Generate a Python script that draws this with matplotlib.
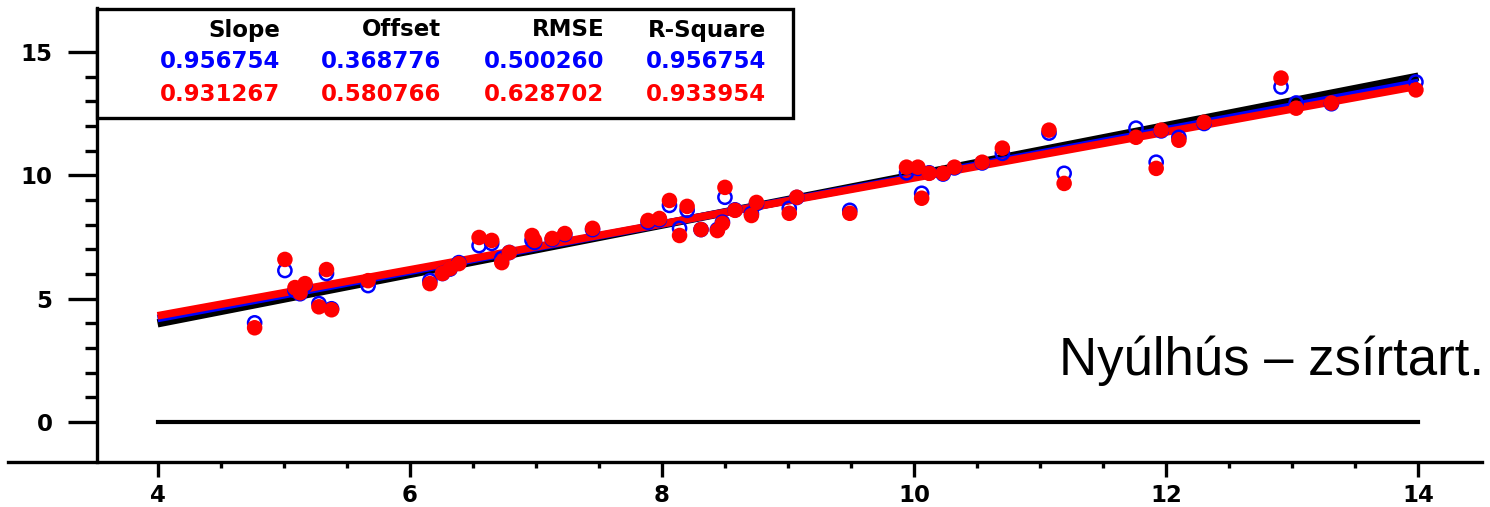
import matplotlib
matplotlib.use("Agg")
import matplotlib.pyplot as plt
from matplotlib.patches import Rectangle
from matplotlib.ticker import FixedLocator
import numpy as np

# measured values (x) and two predictions (blue = model 1, red = model 2)
x = [4.77, 5.01, 5.09, 5.17, 5.13, 5.28, 5.38, 5.34, 5.67, 6.16,
     6.26, 6.32, 6.39, 6.55, 6.65, 6.73, 6.79, 6.97, 6.99, 7.13,
     7.23, 7.45, 7.89, 7.98, 8.06, 8.20, 8.14, 8.31, 8.44, 8.48,
     8.50, 8.58, 8.71, 8.75, 9.01, 9.07, 9.49, 9.94, 10.03, 10.06,
     10.12, 10.23, 10.32, 10.54, 10.70, 11.07, 11.19, 11.76, 11.96, 11.92,
     12.10, 12.30, 12.91, 13.03, 13.31, 13.98]
y_blue = [4.02, 6.14, 5.33, 5.53, 5.20, 4.80, 4.59, 6.02, 5.53, 5.73,
          6.02, 6.20, 6.46, 7.15, 7.24, 6.63, 6.87, 7.36, 7.28, 7.40,
          7.60, 7.80, 8.10, 8.20, 8.78, 8.58, 7.85, 7.80, 7.80, 8.10,
          9.11, 8.60, 8.45, 8.85, 8.66, 9.10, 8.58, 10.10, 10.28, 9.27,
          10.10, 10.05, 10.30, 10.50, 10.89, 11.71, 10.08, 11.91, 11.80, 10.53,
          11.54, 12.10, 13.58, 12.93, 12.90, 13.78]
y_red = [3.82, 6.59, 5.45, 5.61, 5.24, 4.67, 4.55, 6.18, 5.73, 5.61,
         6.02, 6.22, 6.42, 7.48, 7.36, 6.46, 6.87, 7.56, 7.36, 7.44,
         7.64, 7.85, 8.17, 8.25, 8.98, 8.74, 7.56, 7.80, 7.76, 8.05,
         9.51, 8.58, 8.37, 8.90, 8.46, 9.11, 8.46, 10.33, 10.33, 9.07,
         10.08, 10.08, 10.33, 10.53, 11.10, 11.83, 9.67, 11.54, 11.83, 10.28,
         11.42, 12.15, 13.94, 12.72, 12.93, 13.46]

headers = ["Slope", "Offset", "RMSE", "R-Square"]
stats_blue = ["0.956754", "0.368776", "0.500260", "0.956754"]
stats_red = ["0.931267", "0.580766", "0.628702", "0.933954"]
slope_blue, off_blue = 0.956754, 0.368776
slope_red, off_red = 0.931267, 0.580766

W, H = 1490, 507
fig = plt.figure(figsize=(W / 100, H / 100), dpi=100)
ax = fig.add_axes([8 / W, 1 - 462 / H, (1482 - 8) / W, (462 - 8) / H])

def px(xp, yp):
    return xp / W, 1 - yp / H

xs = np.array([4, 14])
ax.plot(xs, xs, color="black", lw=6, solid_capstyle="butt", zorder=2)
ax.plot(xs, slope_blue * xs + off_blue, color="blue", lw=5.5, solid_capstyle="butt", zorder=3)
ax.plot(xs, slope_red * xs + off_red, color="red", lw=5.5, solid_capstyle="butt", zorder=4)
ax.plot(xs, [0, 0], color="black", lw=3, zorder=2)

ax.scatter(x, y_blue, s=90, facecolors="none", edgecolors="blue", linewidths=1.8, zorder=5)
ax.scatter(x, y_red, s=125, color="red", edgecolors="none", zorder=6)

ax.set_xlim(2.814, 14.504)
ax.set_ylim(-1.62, 16.78)

for s in ["top", "right"]:
    ax.spines[s].set_visible(False)
ax.spines["left"].set_position(("data", 3.52))
for s in ["left", "bottom"]:
    ax.spines[s].set_linewidth(2.4)

ax.set_xticks([4, 6, 8, 10, 12, 14])
ax.set_yticks([0, 5, 10, 15])
ax.xaxis.set_minor_locator(FixedLocator([v for v in np.arange(4.5, 14, 0.5) if v % 2 != 0]))
ax.yaxis.set_minor_locator(FixedLocator([v for v in range(1, 15) if v % 5 != 0]))
ax.tick_params(axis="y", which="major", length=21, width=2.4, pad=11)
ax.tick_params(axis="y", which="minor", length=8.5, width=2.4)
ax.tick_params(axis="x", which="major", length=11, width=2.4, pad=5)
ax.tick_params(axis="x", which="minor", length=4, width=2.4)
for lab in ax.get_xticklabels() + ax.get_yticklabels():
    lab.set_fontfamily("DejaVu Sans")
    lab.set_fontweight("bold")
    lab.set_fontsize(16.5)

# stats box
x0, y0 = px(97, 118)
x1, y1 = px(793, 9)
fig.patches.append(Rectangle((x0, y0), x1 - x0, y1 - y0, transform=fig.transFigure,
                             facecolor="white", edgecolor="black", lw=2.4, zorder=10))
col_right = [280, 441, 604, 766]
for cx, h, b, r in zip(col_right, headers, stats_blue, stats_red):
    for yy, txt, c in [(30, h, "black"), (62, b, "blue"), (94, r, "red")]:
        fx, fy = px(cx, yy)
        fig.text(fx, fy, txt, ha="right", va="center", color=c, fontsize=16.5,
                 fontweight="bold", family="DejaVu Sans", zorder=11)

fx, fy = px(1484, 375)
fig.text(fx, fy, "Nyúlhús – zsírtart.", ha="right", va="baseline", fontsize=38,
         family="Liberation Sans", color="black")

fig.savefig("out.png", dpi=100)
